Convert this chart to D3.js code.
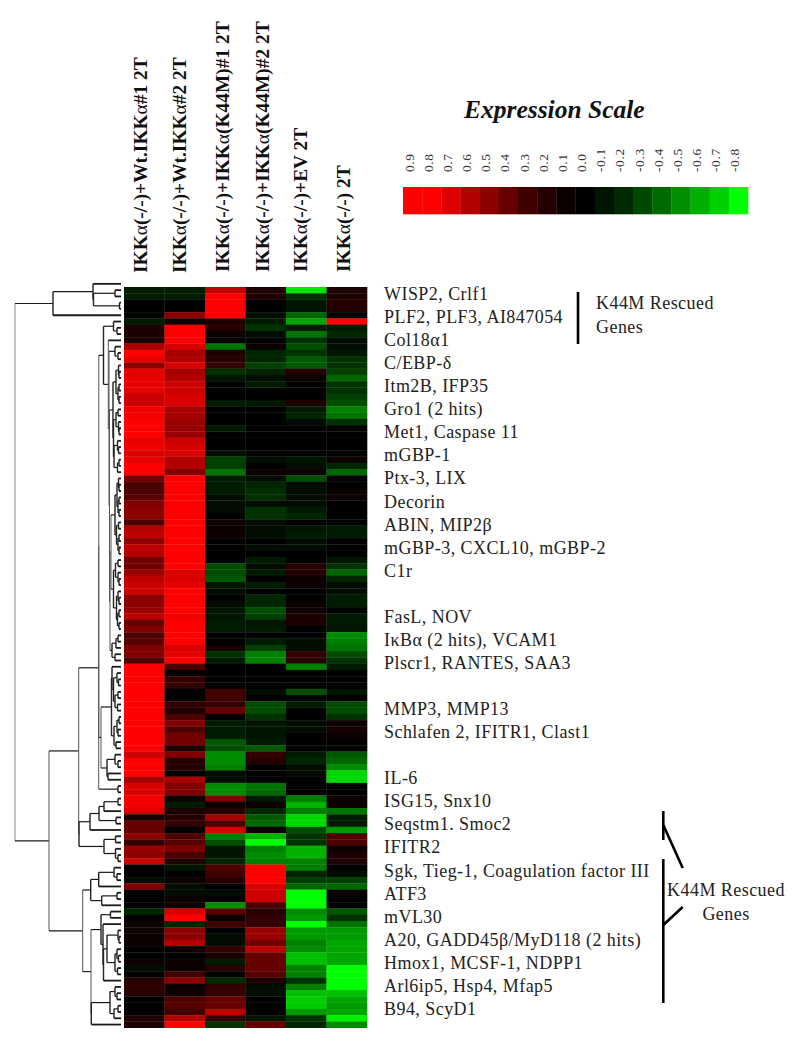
<!DOCTYPE html>
<html><head><meta charset="utf-8">
<script src="https://cdnjs.cloudflare.com/ajax/libs/d3/7.8.5/d3.min.js"></script>
<style>html,body{margin:0;background:#fff}svg{display:block}text{font-family:"Liberation Serif","Times New Roman",serif}</style>
</head><body><svg id="c" width="800" height="1049"></svg>
<script>
const conditions=["IKKα(-/-)+Wt.IKKα#1 2T","IKKα(-/-)+Wt.IKKα#2 2T","IKKα(-/-)+IKKα(K44M)#1 2T","IKKα(-/-)+IKKα(K44M)#2 2T","IKKα(-/-)+EV 2T","IKKα(-/-) 2T"];
const wt1=[-.12,-.1,0,0,0,-.1,.1,.1,.1,.65, 1,.9,.55,.9,.9,.9,.9,.8,.8,.95, .95,1,1,1,.9,.95,.85,.9,1,1, .45,.3,.3,.35,.5,.55,.55,.3,.7,.75, .55,.75,.7,.45,.45,.6,.75,.8,.8,.55, .55,.6,.75,.4,.5,.3,.35,.5,.5,.3, 1,1,1,1,1,1,1,1,1,1, 1,1,1,1,.8,1,1,1,.65,.85, .85,.95,.95,.85,.08,.4,.4,.55,.2,.6, .55,.8,0,0,-.05,.5,0,0,0,-.15, 0,.05,.05,.05,.03,0,0,.05,-.05,0, .15,.2,.15,0,0,0,.12,.12];
const wt2=[-.12,-.1,0,0,.55,.05,1,1,1,.85, .65,.7,.85,.65,.7,.8,.8,.85,.85,.65, .65,.6,.6,.6,.8,.85,.85,.7,.7,.5, 1,1,1,1,1,1,1,1,1,1, 1,1,1,1,1,.85,.85,.9,1,1, 1,1,.95,1,1,1,1,.85,.9,1, .3,.02,.2,.2,0,.02,.2,.1,.3,.5, .3,.45,.45,.1,.5,.15,.15,.02,.65,.5, .5,.03,-.1,.12,.15,.2,-.02,.3,.35,.5, .3,.12,-.07,.02,.05,-.03,-.05,.03,.03,.85, 1,-.15,.55,.55,.7,.02,.02,.03,.05,.25, .55,.05,.05,.3,.35,.25,.7,1];
const km1=[.75,1,1,1,1,.12,.15,.03,0,-.45, .12,.15,.2,-.2,-.08,0,0,0,-.12,0, 0,0,-.1,-.02,0,0,-.05,-.25,-.25,-.45, -.12,-.12,-.12,-.05,-.05,-.03,-.02,.05,.03,.05, 0,0,0,0,-.3,-.3,-.35,-.08,-.05,0, -.05,-.07,-.07,-.1,-.1,0,0,.08,-.2,-.1, 0,0,0,0,.25,.25,.2,.4,0,-.1, -.1,-.1,-.35,-.3,-.55,-.55,-.5,-.05,-.05,-.55, -.55,.5,.05,.15,.65,.3,.85,-.5,-.3,-.07, -.07,-.15,.3,.25,.15,0,-.05,-.02,-.55,.35, .03,.25,0,-.03,-.03,.2,.1,-.1,.15,0, -.15,.2,.2,.4,.4,.75,.2,-.2];
const km2=[.12,.12,.02,0,-.05,-.12,-.2,-.04,-.02,.03, -.15,-.15,-.25,-.15,-.05,-.1,-.02,0,-.08,0, 0,0,0,0,0,0,0,-.05,-.02,.03, -.05,-.15,-.18,-.18,-.05,-.2,-.2,-.05,-.05,-.05, -.02,-.03,0,-.1,-.05,-.1,-.02,-.12,-.02,-.15, -.15,-.3,-.25,-.08,-.1,0,-.1,-.25,-.5,-.5, 0,0,0,0,-.03,0,-.3,-.3,-.2,-.08, -.07,-.07,-.12,-.35,.2,.15,0,0,0,-.45, -.4,-.1,.03,-.15,-.35,-.4,.03,-.7,-1,-.5, -.55,-.5,1,1,1,.85,.8,.8,.3,.15, .2,.2,.6,.6,.45,.75,.4,.4,.4,.35, .1,-.05,-.05,0,0,0,-.08,.4];
const ev=[-.9,-.2,-.08,-.08,-.4,-.65,-.1,-.45,-.2,-.3, -.2,-.35,-.35,.15,.03,0,0,0,.1,-.1, -.15,-.05,0,0,0,0,-.02,-.08,-.05,.05, -.3,-.03,-.03,-.05,-.05,-.1,-.15,-.02,-.08,-.1, -.05,-.03,0,0,.15,.15,.05,.05,0,0, .05,.05,.1,.1,.02,-.02,-.05,-.05,.2,.15, -.5,0,0,0,-.3,0,-.12,-.02,-.02,-.05, -.05,-.02,0,0,-.12,-.15,-.03,-.03,-.02,0, 0,-.5,-.7,-.5,-.85,-.85,-.3,-.2,-.2,-.7, -.7,-.5,-.5,-.15,-.25,-.4,-1,-1,-1,-.55, -.6,-1,-.6,-.6,-.5,-.55,-.75,-.75,-.5,-.5, -.2,-.5,-.75,-.8,-.8,-.6,-.2,-.15];
const ko=[.12,.1,.15,.15,0,1,-.12,-.15,-.05,-.05, -.08,-.2,-.2,-.25,-.4,-.2,-.2,-.25,-.3,-.5, -.45,-.2,0,0,0,0,0,.03,-.15,-.4, 0,0,.03,.03,0,0,0,0,-.1,-.12, 0,0,0,-.08,-.2,-.4,-.15,-.05,-.05,-.12, -.1,0,-.1,-.1,-.08,-.55,-.5,-.45,-.3,-.2, -.12,0,0,0,-.08,-.02,-.3,-.3,-.2,.05, .07,.05,0,0,-.35,-.4,-.55,-.85,-.85,.02, .02,.03,.03,-.45,-.12,-.12,-.6,.3,.3,.05, .12,.12,0,-.05,-.25,-.4,.05,0,0,-.35, -.2,-.45,-.6,-.6,-.65,-.65,-.65,-.65,-1,-1, -1,-1,-.75,-.65,-.6,-.65,-.95,-.55];
const geneLabels=["WISP2, Crlf1","PLF2, PLF3, AI847054","Col18α1","C/EBP-δ","Itm2B, IFP35","Gro1 (2 hits)","Met1, Caspase 11","mGBP-1","Ptx-3, LIX","Decorin","ABIN, MIP2β","mGBP-3, CXCL10, mGBP-2","C1r","","FasL, NOV","IκBα (2 hits), VCAM1","Plscr1, RANTES, SAA3","","MMP3, MMP13","Schlafen 2, IFITR1, Clast1","","IL-6","ISG15, Snx10","Seqstm1. Smoc2","IFITR2","Sgk, Tieg-1, Coagulation factor III","ATF3","mVL30","A20, GADD45β/MyD118 (2 hits)","Hmox1, MCSF-1, NDPP1","Arl6ip5, Hsp4, Mfap5","B94, ScyD1"];
const scaleTicks=["0.9","0.8","0.7","0.6","0.5","0.4","0.3","0.2","0.1","0.0","-0.1","-0.2","-0.3","-0.4","-0.5","-0.6","-0.7","-0.8"];
const scaleLevels=[1,1,.87,.7,.55,.4,.25,.15,.06,0,-.08,-.17,-.29,-.42,-.56,-.69,-.82,-1];

// Dendrogram: [merge distance, child, child]; 0 is a leaf
const L=0;
const topGroup=[68,[28,L,[27.5,[6,L,L],[1.5,L,L]]],L];
const rows5to7=[7.5,L,[4,L,L]];
const rows9to11=[6,L,[3,L,L]];
const rows12to18=[5,[2.5,L,[2,L,L]],[3,[2,L,L],[2,L,L]]];
const rows19to23=[5,[3,L,L],[2.5,L,[2,L,L]]];
const rows24to29=[7,[3.5,L,[2.5,L,L]],[3.5,[2,L,L],L]];
const rows30to42=[6,[4,[2.5,L,[2,L,L]],[3,[2,L,L],[2,L,L]]],[4.5,[2.5,L,L],[3,[2,L,L],[2,L,L]]]];
const rows43to47=[5.5,[3,L,L],[3,L,[2,L,L]]];
const rows48to54=[4.5,[3,L,[2,L,L]],[3.5,[2,L,L],[2,L,L]]];
const rows55to59=[9,[5,[3,L,L],L],[6,L,L]];
const rows60to67=[9,L,[7.5,[4,L,[2.5,L,L]],[6,[3,L,L],[3.5,L,L]]]];
const rows68to73=[7,[4,[2,L,L],[3,L,L]],[5,L,L]];
const rows74to78=[14,[6,L,[3,L,L]],[13,L,L]];
const rows81to86=[31,[22,[17,[3,L,L],L],[5,L,L]],L];
const rows87to91=[17,[5.5,L,L],[5.5,L,[3,L,L]]];
const rows92to98=[30.3,[22.3,[7,L,[4,L,L]],L],[19.3,[4,L,L],L]];
const rows99to110=[20,[10.5,L,L],[18,L,[17.5,[14,[3,L,[2,L,L]],[6,[4,L,[2.5,L,L]],[3.5,L,L]]],L]]];
const rows111to116=[11,[6,L,[4,L,L]],[7,[3,L,L],L]];

const upperMiddle=[17.5,rows5to7,[12.7,L,[12,rows9to11,[11.5,[8,rows12to18,[7.5,rows19to23,rows24to29]],[11,[10,rows30to42,[7.5,rows43to47,rows48to54]],rows55to59]]]]];
const bigCluster=[22.3,[22.2,upperMiddle,[20,[9.5,rows60to67,rows68to73],rows74to78]],[3,L,L]];
const lowerA=[42.3,bigCluster,[42,rows81to86,rows87to91]];
const lowerB=[38.3,rows92to98,[30,rows99to110,[29.7,rows111to116,L]]];
const treeRoot=[106,topGroup,[72,lowerA,lowerB]];

const svg=d3.select("#c");
const series=[wt1,wt2,km1,km2,ev,ko];
const nRows=wt1.length;
const x=d3.scaleBand().domain(d3.range(6)).range([124,367]);
const y=d3.scaleBand().domain(d3.range(nRows)).range([287,1027.7]);
const color=d3.scaleLinear().domain([-1,0,1]).range(["#00ff00","#000000","#ff0000"]).clamp(true);

// soft edges, as in the scanned reference
const defs=svg.append("defs");
defs.append("filter").attr("id","soft").attr("x",0).attr("y",0).attr("width",1).attr("height",1)
  .append("feGaussianBlur").attr("stdDeviation",.55);

// heat map
const heat=svg.append("g").attr("filter","url(#soft)");
series.forEach((col,c)=>{
  heat.append("g").selectAll("rect").data(col).join("rect")
    .attr("x",x(c)).attr("width",x.bandwidth()+.3)
    .attr("y",(d,i)=>y(i)).attr("height",y.bandwidth()+.3)
    .attr("fill",d=>color(d));
});

// dendrogram
const root=d3.hierarchy(treeRoot,d=>Array.isArray(d)?d.slice(1):null);
const dist=d3.scaleLinear().domain([0,106]).range([121,15]);
let leafIndex=-1;
root.eachAfter(n=>{
  if(!n.children){n.py=y(0)+y.bandwidth()/2+leafIndex*y.step();leafIndex++;n.px=dist(0);}
  else{n.py=(n.children[0].py+n.children[1].py)/2;n.px=dist(n.data[0]);}
});
const tree=svg.append("g").attr("fill","none");
root.descendants().filter(n=>n.children).forEach(n=>{
  const [a,b]=n.children, len=b.py-a.py;
  tree.append("line").attr("x1",n.px).attr("x2",n.px).attr("y1",a.py).attr("y2",b.py)
    .attr("stroke",n===root?"#888":len>60?"#555":"#222").attr("stroke-width",len>60?1:1.4);
  [a,b].forEach(k=>tree.append("line").attr("x1",n.px).attr("x2",k.px).attr("y1",k.py).attr("y2",k.py)
    .attr("stroke","#1a1a1a").attr("stroke-width",k.children?1.2:1.8));
});

// column headers
const headBase=[147,186,229,269,307,350], headBottom=[273,273,272,272,272,272];
conditions.forEach((t,i)=>{
  const g=svg.append("text").attr("transform",`translate(${headBase[i]},${headBottom[i]}) rotate(-90)`)
    .attr("font-size",19.4).attr("font-weight","bold").attr("fill","#111");
  t.split(/(α)/).forEach(p=>g.append("tspan").text(p).attr("font-weight",p==="α"?"normal":"bold"));
});

// gene labels
const labelY=d3.scaleLinear().domain([0,geneLabels.length-1]).range([294,1009]);
svg.append("g").selectAll("text").data(geneLabels).join("text")
  .attr("x",384).attr("y",(d,i)=>labelY(i)).attr("dy","0.33em")
  .attr("font-size",18).attr("fill","#222").attr("letter-spacing",.45).text(d=>d);

// annotations
const ann=svg.append("g").attr("stroke","#000").attr("stroke-width",2.6);
[[578,292,578,344],[663.3,811,663.3,840],[663.3,859,663.3,1003],[663.3,825,682.7,868],[663.3,925,682.7,907]]
 .forEach(s=>ann.append("line").attr("x1",s[0]).attr("y1",s[1]).attr("x2",s[2]).attr("y2",s[3]));
[["K44M Rescued",596,303,"start"],["Genes",596,327,"start"],["K44M Rescued",726,890,"middle"],["Genes",726,914,"middle"]]
 .forEach(t=>svg.append("text").attr("x",t[1]).attr("y",t[2]).attr("dy","0.33em").attr("text-anchor",t[3])
   .attr("font-size",18).attr("fill","#222").attr("letter-spacing",.45).text(t[0]));

// expression scale
svg.append("text").attr("x",464).attr("y",118).attr("font-size",25.5).attr("font-weight","bold").attr("font-style","italic").attr("fill","#111").text("Expression Scale");
const lx=d3.scaleBand().domain(d3.range(scaleTicks.length)).range([403,748]);
svg.append("g").attr("filter","url(#soft)").selectAll("rect").data(scaleLevels).join("rect")
  .attr("x",(d,i)=>lx(i)).attr("y",187).attr("width",lx.bandwidth()+.3).attr("height",27.3).attr("fill",d=>color(d));
svg.append("g").selectAll("text").data(scaleTicks).join("text")
  .attr("transform",(d,i)=>`translate(${lx(i)+lx.bandwidth()/2+1},172) rotate(-90)`)
  .attr("font-size",13.5).attr("letter-spacing",.6).attr("fill","#333").text(d=>d);
</script></body></html>
